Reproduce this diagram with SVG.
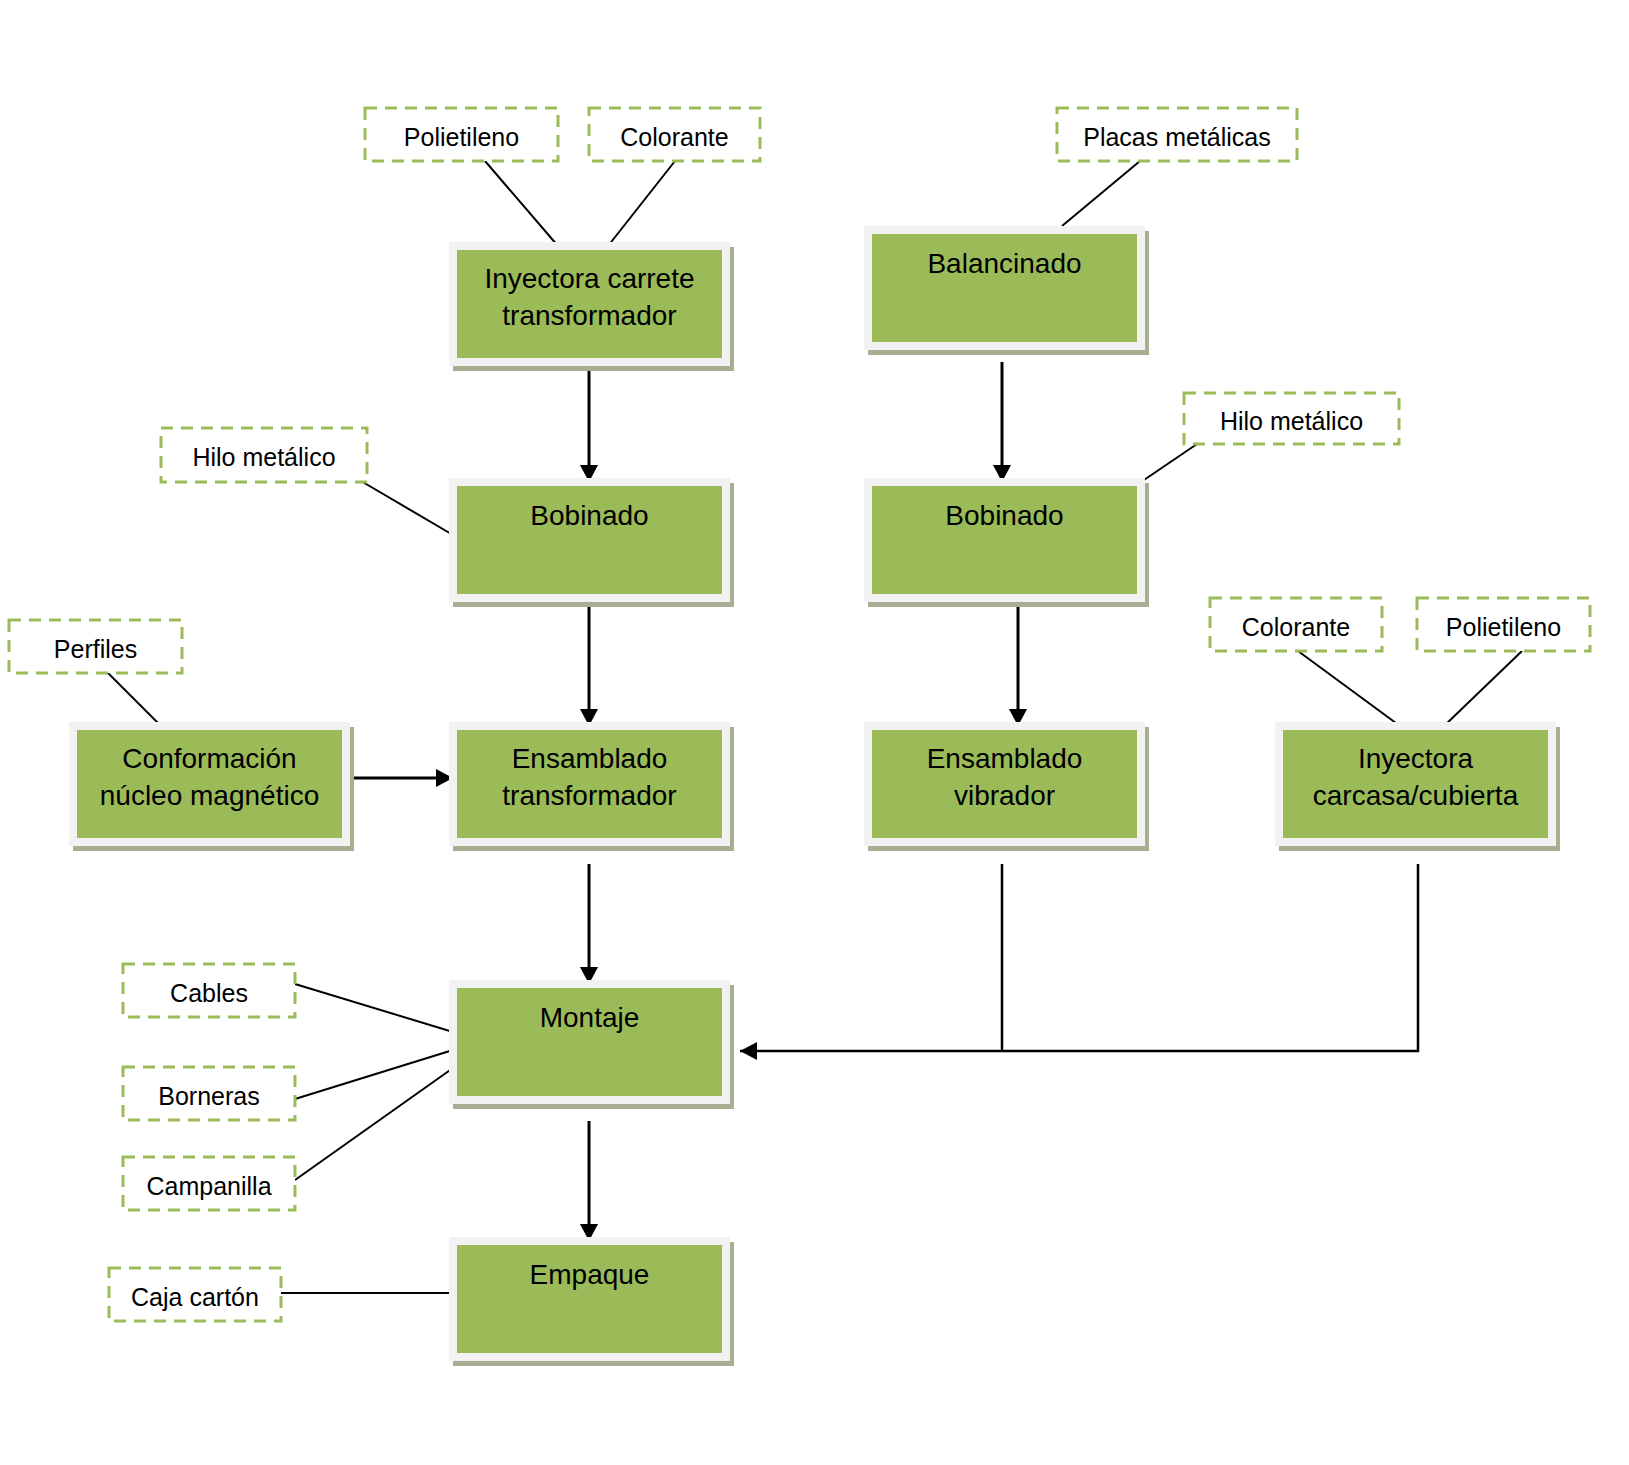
<svg xmlns="http://www.w3.org/2000/svg" width="1629" height="1465" viewBox="0 0 1629 1465">
<style>
.sh{fill:#a8ae92}
.fr{fill:#f2f2f2}
.gr{fill:#9bbb59}
.nt{font-family:"Liberation Sans",Arial,sans-serif;font-size:28px;fill:#000;text-anchor:middle}
.lb{fill:#fff;stroke:#9bbb59;stroke-width:3;stroke-dasharray:12 8}
.lt{font-family:"Liberation Sans",Arial,sans-serif;font-size:25px;fill:#000;text-anchor:middle}
.ln{stroke:#000;stroke-width:2;fill:none}
.ar{stroke:#000;stroke-width:3;fill:none;marker-end:url(#ah)}
</style>
<defs>
<marker id="ah" markerUnits="userSpaceOnUse" markerWidth="17" markerHeight="18" refX="17" refY="9" orient="auto">
<path d="M0,0 L17,9 L0,18 z" fill="#000"/>
</marker>
</defs>
<rect width="1629" height="1465" fill="#fff"/>

<g id="connectors">
<line class="ln" x1="485" y1="161" x2="558" y2="246"/>
<line class="ln" x1="675" y1="161" x2="608" y2="246"/>
<line class="ln" x1="1140" y1="161" x2="1062" y2="226"/>
<line class="ln" x1="361" y1="481" x2="453" y2="535"/>
<line class="ln" x1="1197" y1="444" x2="1141" y2="482"/>
<line class="ln" x1="108" y1="673" x2="161" y2="726"/>
<line class="ln" x1="1298" y1="651" x2="1400" y2="726"/>
<line class="ln" x1="1522" y1="651" x2="1444" y2="726"/>
<line class="ln" x1="295" y1="984" x2="453" y2="1032"/>
<line class="ln" x1="295" y1="1099" x2="453" y2="1050"/>
<line class="ln" x1="295" y1="1180" x2="453" y2="1068"/>
<line class="ln" x1="280" y1="1293" x2="453" y2="1293"/>
<line class="ar" x1="589" y1="362" x2="589" y2="482"/>
<line class="ar" x1="589" y1="607" x2="589" y2="726"/>
<line class="ar" x1="589" y1="864" x2="589" y2="984"/>
<line class="ar" x1="589" y1="1121" x2="589" y2="1241"/>
<line class="ar" x1="1002" y1="362" x2="1002" y2="482"/>
<line class="ar" x1="1018" y1="607" x2="1018" y2="726"/>
<line class="ar" x1="345" y1="778" x2="453" y2="778"/>
<line class="ln" x1="1002" y1="864" x2="1002" y2="1051" style="stroke-width:2.5"/>
<polyline class="ar" points="1418,864 1418,1051 740,1051" style="stroke-width:2.5"/>
</g>

<g id="n1">
<rect class="sh" x="453" y="247" width="281" height="124"/><rect class="fr" x="449" y="242" width="281" height="124"/><rect class="gr" x="457" y="250" width="265" height="108"/>
<text class="nt" x="589.5" y="288">Inyectora carrete</text><text class="nt" x="589.5" y="325">transformador</text>
</g>
<g id="n2">
<rect class="sh" x="868" y="231" width="281" height="124"/><rect class="fr" x="864" y="226" width="281" height="124"/><rect class="gr" x="872" y="234" width="265" height="108"/>
<text class="nt" x="1004.5" y="273">Balancinado</text>
</g>
<g id="n3">
<rect class="sh" x="453" y="483" width="281" height="124"/><rect class="fr" x="449" y="478" width="281" height="124"/><rect class="gr" x="457" y="486" width="265" height="108"/>
<text class="nt" x="589.5" y="525">Bobinado</text>
</g>
<g id="n4">
<rect class="sh" x="868" y="483" width="281" height="124"/><rect class="fr" x="864" y="478" width="281" height="124"/><rect class="gr" x="872" y="486" width="265" height="108"/>
<text class="nt" x="1004.5" y="525">Bobinado</text>
</g>
<g id="n5">
<rect class="sh" x="73" y="727" width="281" height="124"/><rect class="fr" x="69" y="722" width="281" height="124"/><rect class="gr" x="77" y="730" width="265" height="108"/>
<text class="nt" x="209.5" y="768">Conformación</text><text class="nt" x="209.5" y="805">núcleo magnético</text>
</g>
<g id="n6">
<rect class="sh" x="453" y="727" width="281" height="124"/><rect class="fr" x="449" y="722" width="281" height="124"/><rect class="gr" x="457" y="730" width="265" height="108"/>
<text class="nt" x="589.5" y="768">Ensamblado</text><text class="nt" x="589.5" y="805">transformador</text>
</g>
<g id="n7">
<rect class="sh" x="868" y="727" width="281" height="124"/><rect class="fr" x="864" y="722" width="281" height="124"/><rect class="gr" x="872" y="730" width="265" height="108"/>
<text class="nt" x="1004.5" y="768">Ensamblado</text><text class="nt" x="1004.5" y="805">vibrador</text>
</g>
<g id="n8">
<rect class="sh" x="1279" y="727" width="281" height="124"/><rect class="fr" x="1275" y="722" width="281" height="124"/><rect class="gr" x="1283" y="730" width="265" height="108"/>
<text class="nt" x="1415.5" y="768">Inyectora</text><text class="nt" x="1415.5" y="805">carcasa/cubierta</text>
</g>
<g id="n9">
<rect class="sh" x="453" y="985" width="281" height="124"/><rect class="fr" x="449" y="980" width="281" height="124"/><rect class="gr" x="457" y="988" width="265" height="108"/>
<text class="nt" x="589.5" y="1027">Montaje</text>
</g>
<g id="n10">
<rect class="sh" x="453" y="1242" width="281" height="124"/><rect class="fr" x="449" y="1237" width="281" height="124"/><rect class="gr" x="457" y="1245" width="265" height="108"/>
<text class="nt" x="589.5" y="1284">Empaque</text>
</g>

<g id="l1"><rect class="lb" x="365" y="108" width="193" height="53"/><text class="lt" x="461.5" y="146">Polietileno</text></g>
<g id="l2"><rect class="lb" x="589" y="108" width="171" height="53"/><text class="lt" x="674.5" y="146">Colorante</text></g>
<g id="l3"><rect class="lb" x="1057" y="108" width="240" height="53"/><text class="lt" x="1177" y="146">Placas metálicas</text></g>
<g id="l4"><rect class="lb" x="161" y="428" width="206" height="54"/><text class="lt" x="264" y="466">Hilo metálico</text></g>
<g id="l5"><rect class="lb" x="1184" y="393" width="215" height="51"/><text class="lt" x="1291.5" y="430">Hilo metálico</text></g>
<g id="l6"><rect class="lb" x="9" y="620" width="173" height="53"/><text class="lt" x="95.5" y="658">Perfiles</text></g>
<g id="l7"><rect class="lb" x="1210" y="598" width="172" height="53"/><text class="lt" x="1296" y="636">Colorante</text></g>
<g id="l8"><rect class="lb" x="1417" y="598" width="173" height="53"/><text class="lt" x="1503.5" y="636">Polietileno</text></g>
<g id="l9"><rect class="lb" x="123" y="964" width="172" height="53"/><text class="lt" x="209" y="1002">Cables</text></g>
<g id="l10"><rect class="lb" x="123" y="1067" width="172" height="53"/><text class="lt" x="209" y="1105">Borneras</text></g>
<g id="l11"><rect class="lb" x="123" y="1157" width="172" height="53"/><text class="lt" x="209" y="1195">Campanilla</text></g>
<g id="l12"><rect class="lb" x="109" y="1268" width="172" height="53"/><text class="lt" x="195" y="1306">Caja cartón</text></g>
</svg>
